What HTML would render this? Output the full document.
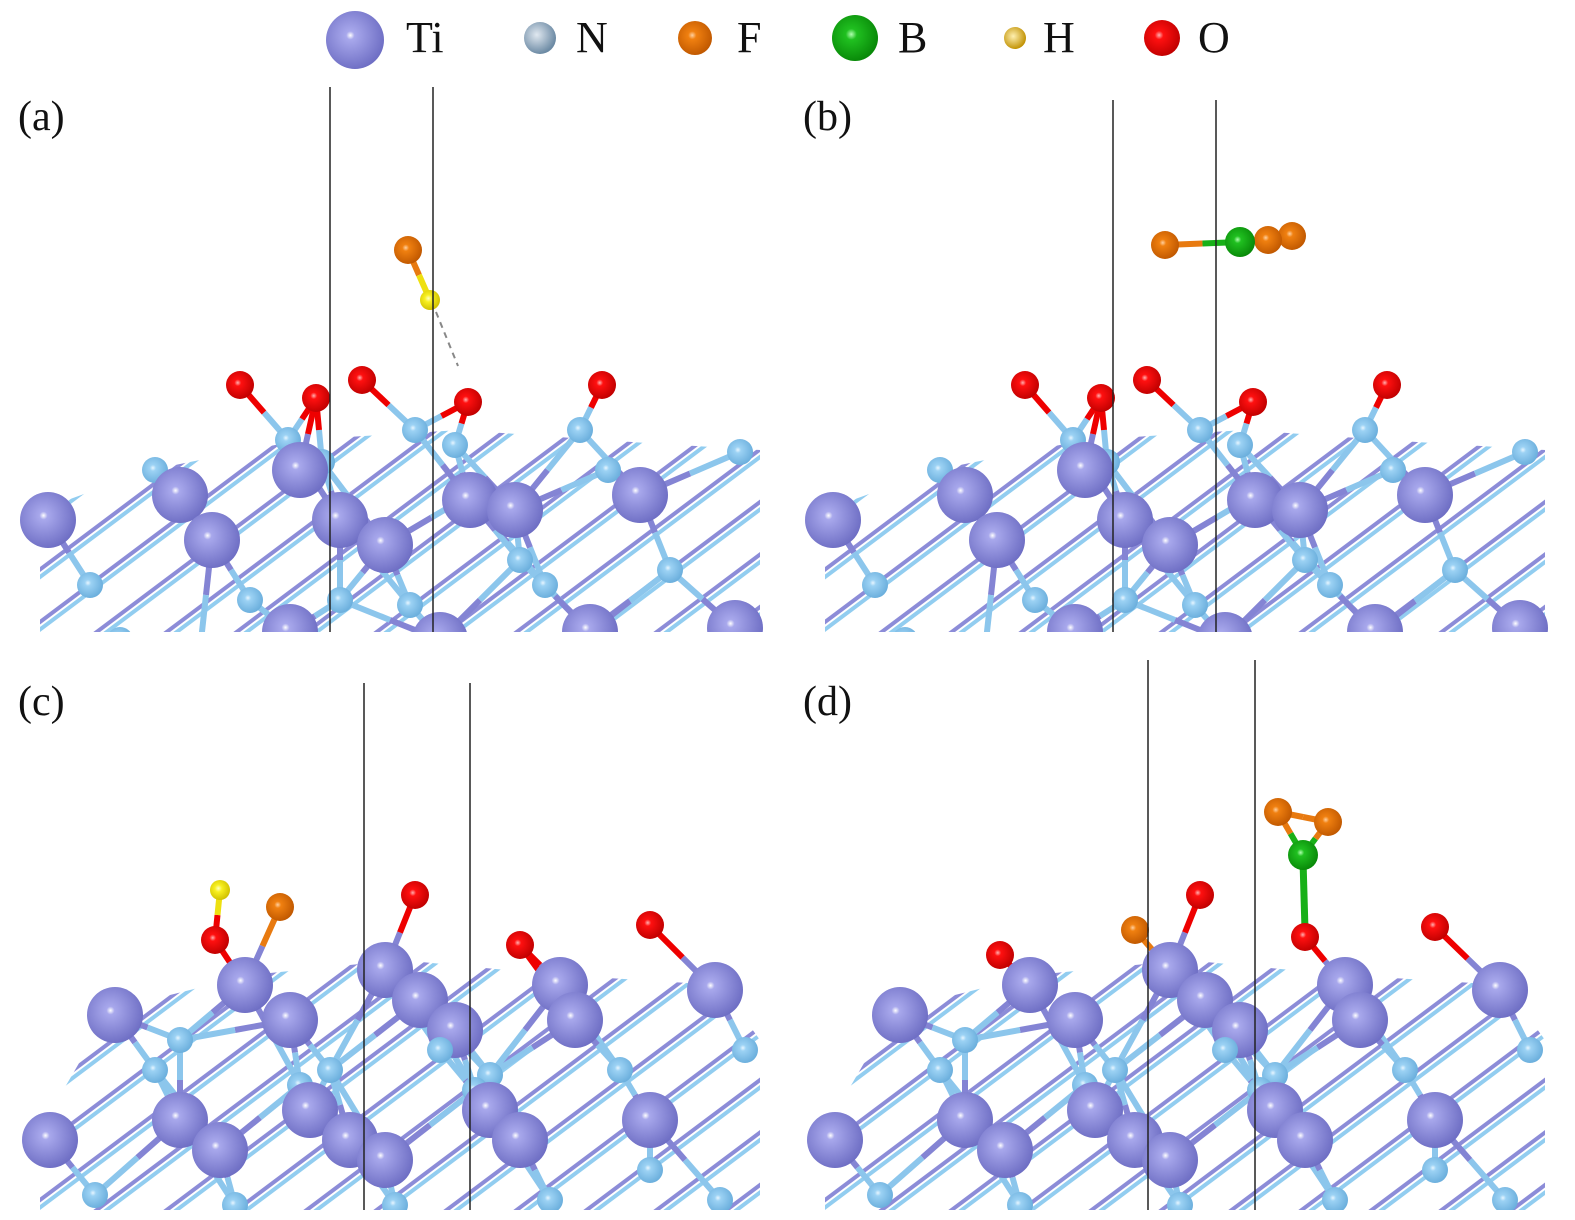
<!DOCTYPE html>
<html><head><meta charset="utf-8">
<style>
html,body{margin:0;padding:0;background:#fff;}
svg{display:block;}
text{font-family:"Liberation Serif",serif;fill:#111;}
</style></head>
<body>
<svg id="s" width="1575" height="1220" viewBox="0 0 1575 1220" xmlns="http://www.w3.org/2000/svg">
<defs>
<radialGradient id="gTi" cx="0.42" cy="0.42" r="0.6"><stop offset="0" stop-color="#ffffff"/><stop offset="0.12" stop-color="#a8a8ec"/><stop offset="1" stop-color="#6e6ec4"/></radialGradient>
<radialGradient id="gN" cx="0.42" cy="0.42" r="0.6"><stop offset="0" stop-color="#e8f6ff"/><stop offset="0.2" stop-color="#9cd2f4"/><stop offset="1" stop-color="#6aaedc"/></radialGradient>
<radialGradient id="gNL" cx="0.4" cy="0.4" r="0.6"><stop offset="0" stop-color="#e0e8f0"/><stop offset="1" stop-color="#6c8aa4"/></radialGradient>
<radialGradient id="gO" cx="0.42" cy="0.42" r="0.6"><stop offset="0" stop-color="#ffb0b0"/><stop offset="0.2" stop-color="#ff1010"/><stop offset="1" stop-color="#c00000"/></radialGradient>
<radialGradient id="gF" cx="0.42" cy="0.42" r="0.6"><stop offset="0" stop-color="#ffd0a0"/><stop offset="0.2" stop-color="#f08010"/><stop offset="1" stop-color="#c05800"/></radialGradient>
<radialGradient id="gB" cx="0.42" cy="0.42" r="0.6"><stop offset="0" stop-color="#b0ffb0"/><stop offset="0.2" stop-color="#20c020"/><stop offset="1" stop-color="#088808"/></radialGradient>
<radialGradient id="gH" cx="0.42" cy="0.42" r="0.6"><stop offset="0" stop-color="#ffffc0"/><stop offset="0.3" stop-color="#f8f020"/><stop offset="1" stop-color="#d0c000"/></radialGradient>
<radialGradient id="gHL" cx="0.42" cy="0.42" r="0.6"><stop offset="0" stop-color="#fff0b0"/><stop offset="1" stop-color="#c09000"/></radialGradient>
<clipPath id="cTop"><rect x="0" y="80" width="1575" height="552"/></clipPath>
<clipPath id="cBot"><rect x="0" y="640" width="1575" height="570"/></clipPath>
<clipPath id="lA"><polygon points="40,510 150,470 300,440 460,430 600,440 760,450 760,632 40,632"/></clipPath>
<clipPath id="lB"><polygon points="825,510 935,470 1085,440 1245,430 1385,440 1545,450 1545,632 825,632"/></clipPath>
<clipPath id="lC"><polygon points="40,1130 110,1010 250,975 400,960 560,975 720,985 760,1040 760,1210 40,1210"/></clipPath>
<clipPath id="lD"><polygon points="825,1130 895,1010 1035,975 1185,960 1345,975 1505,985 1545,1040 1545,1210 825,1210"/></clipPath>
</defs>
<g id="legend">
<circle cx="355" cy="40" r="29" fill="url(#gTi)"/><text x="406" y="52" font-size="44">Ti</text>
<circle cx="540" cy="38" r="16" fill="url(#gNL)"/><text x="576" y="52" font-size="44">N</text>
<circle cx="695" cy="38" r="17" fill="url(#gF)"/><text x="737" y="52" font-size="44">F</text>
<circle cx="855" cy="38" r="23" fill="url(#gB)"/><text x="898" y="52" font-size="44">B</text>
<circle cx="1015" cy="38" r="11" fill="url(#gHL)"/><text x="1043" y="52" font-size="44">H</text>
<circle cx="1162" cy="38" r="18" fill="url(#gO)"/><text x="1198" y="52" font-size="44">O</text>
</g>
<text x="18" y="130" font-size="42">(a)</text>
<text x="803" y="130" font-size="42">(b)</text>
<text x="18" y="715" font-size="42">(c)</text>
<text x="803" y="715" font-size="42">(d)</text>
<g id="lat"></g>
<g id="gtop" clip-path="url(#cTop)"></g>
<g id="gbot" clip-path="url(#cBot)"></g>
</svg>
<script>
(function(){
var NS="http://www.w3.org/2000/svg";
var R={Ti:28,N:13,O:14,F:14,B:15,H:10};
var C={Ti:"#8484d4",N:"#8cc6ec",O:"#ee0000",F:"#e87a10",B:"#18b018",H:"#eee010"};
function el(p,t,a){var e=document.createElementNS(NS,t);for(var k in a)e.setAttribute(k,a[k]);p.appendChild(e);return e;}
var lat=document.getElementById("lat");
[["lA",0,632],["lB",785,632],["lC",0,1210],["lD",785,1210]].forEach(function(p){
  var g=el(lat,"g",{"clip-path":"url(#"+p[0]+")"});
  for(var x0=-700;x0<800;x0+=70){
    var x1=p[1]+x0, y1=p[2]+20, x2=x1+1000, y2=y1-750;
    el(g,"line",{x1:x1,y1:y1,x2:x2,y2:y2,stroke:"#8c8cd8","stroke-width":4});
    el(g,"line",{x1:x1+6,y1:y1+3,x2:x2+6,y2:y2+3,stroke:"#92cdf0","stroke-width":4});
  }
});
var topSub=[
["Ti",48,520],["Ti",180,495],["Ti",212,540],["Ti",300,470],["Ti",340,520],["Ti",385,545],["Ti",470,500],["Ti",515,510],["Ti",640,495],
["Ti",290,632],["Ti",440,640],["Ti",590,632],["Ti",735,628],
["N",155,470],["N",288,440],["N",322,462],["N",415,430],["N",455,445],["N",478,490],["N",580,430],["N",608,470],["N",740,452],
["N",90,585],["N",250,600],["N",410,605],["N",545,585],["N",670,570],["N",520,560],["N",340,600],["N",120,640],["N",200,650],
["O",240,385],["O",316,398],["O",362,380],["O",468,402],["O",602,385]];
var botSub=[
["Ti",115,1015],["Ti",245,985],["Ti",290,1020],["Ti",385,970],["Ti",420,1000],["Ti",455,1030],["Ti",560,985],["Ti",575,1020],["Ti",715,990],
["Ti",50,1140],["Ti",180,1120],["Ti",220,1150],["Ti",310,1110],["Ti",350,1140],["Ti",385,1160],["Ti",490,1110],["Ti",520,1140],["Ti",650,1120],
["N",155,1070],["N",300,1085],["N",330,1070],["N",475,1090],["N",490,1075],["N",620,1070],["N",745,1050],["N",95,1195],["N",235,1205],["N",395,1205],["N",720,1200],["N",650,1170],["N",550,1200],
["N",180,1040],["N",440,1050]];
function shift(a,dx){return a.map(function(q){return [q[0],q[1]+dx,q[2]];});}
function lim(a,b){
  var s=[a[0],b[0]].sort().join("-");
  if(a[3]||b[3])return (a[3]&&b[3]&&a[3]==b[3])?80:0;
  return {"N-Ti":115,"O-Ti":95,"N-O":80,"H-O":60,"F-Ti":95}[s]||0;
}
function draw(g,atoms,extra){
  var all=atoms.concat(extra||[]);
  var bg=el(g,"g",{});
  for(var i=0;i<all.length;i++)for(var j=i+1;j<all.length;j++){
    var a=all[i],b=all[j];
    var d=Math.hypot(a[1]-b[1],a[2]-b[2]);
    if(d<lim(a,b)&&d>5){
      var mx=(a[1]+b[1])/2,my=(a[2]+b[2])/2;
      el(bg,"line",{x1:a[1],y1:a[2],x2:mx,y2:my,stroke:C[a[0]],"stroke-width":6});
      el(bg,"line",{x1:mx,y1:my,x2:b[1],y2:b[2],stroke:C[b[0]],"stroke-width":6});
    }
  }
  all.slice().sort(function(p,q){return p[2]-q[2];}).forEach(function(a){
    el(g,"circle",{cx:a[1],cy:a[2],r:R[a[0]],fill:"url(#g"+a[0]+")"});
  });
}
var gt=document.getElementById("gtop"),gb=document.getElementById("gbot");
draw(gt,topSub,[["F",408,250,1],["H",430,300,1]]);
el(gt,"line",{x1:436,y1:312,x2:458,y2:366,stroke:"#888","stroke-width":2,"stroke-dasharray":"6,5"});
draw(gt,shift(topSub,785),[["F",1165,245,2],["B",1240,242,2],["F",1268,240,2],["F",1292,236,2]]);
draw(gb,botSub,[["O",215,940],["O",390,965],["O",415,895],["O",520,945],["O",650,925],["H",220,890],["F",280,907]]);
el(gb,"line",{x1:1303,y1:860,x2:1305,y2:930,stroke:"#18b018","stroke-width":7});
draw(gb,shift(botSub,785),[["O",1000,955],["O",1175,965],["O",1200,895],["O",1305,937],["O",1435,927],["F",1135,930],["B",1303,855,3],["F",1278,812,3],["F",1328,822,3]]);
var svg=document.getElementById("s");
[[330,87,632],[433,87,632],[1113,100,632],[1216,100,632],[364,683,1210],[470,683,1210],[1148,660,1210],[1255,660,1210]].forEach(function(l){
  el(svg,"line",{x1:l[0],y1:l[1],x2:l[0],y2:l[2],stroke:"#222","stroke-width":1.5});
});
})();
</script>
</body></html>
